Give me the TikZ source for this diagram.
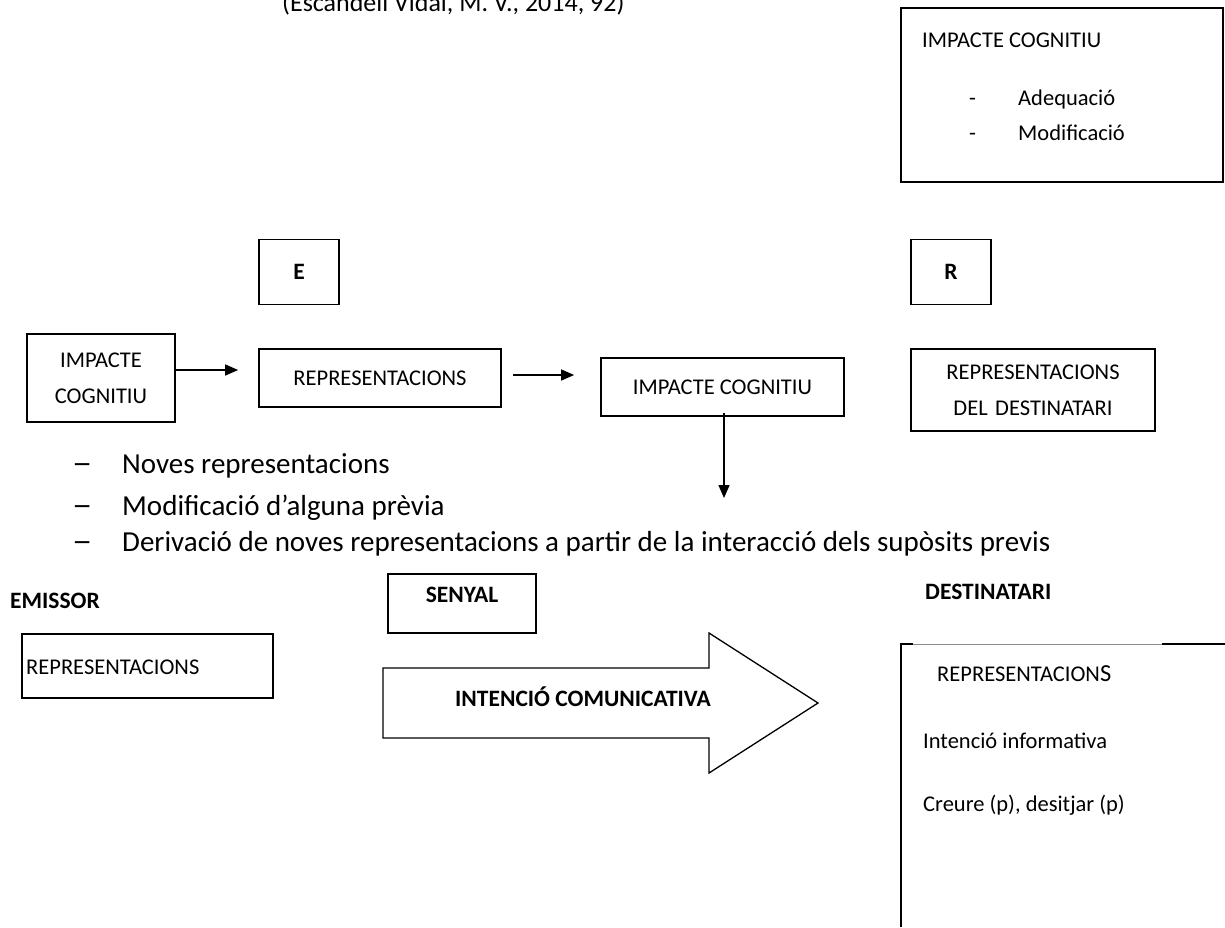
\documentclass[tikz,border=0pt]{standalone}
\usepackage{fontspec}
\setmainfont{Carlito}
\usetikzlibrary{arrows.meta}
\newcommand{\longdash}{\scalebox{1.4}[1.1]{–}}
\begin{document}
\begin{tikzpicture}[x=1pt,y=-1pt,
  box/.style={draw, line width=1.7pt, inner sep=0pt, align=center,
    font=\fontsize{22.5}{36}\selectfont},
  lettered/.style={box, minimum width=80pt, minimum height=65pt,
    font=\fontsize{23.5}{28}\selectfont\bfseries},
  plain/.style={inner sep=0pt, anchor=base west, font=\fontsize{22.5}{27}\selectfont},
  heading/.style={inner sep=0pt, font=\fontsize{23.5}{28}\selectfont\bfseries},
  item/.style={inner sep=0pt, anchor=base west, font=\fontsize{29}{34}\selectfont},
  flow/.style={line width=1.5pt, -{Triangle[length=13pt,width=11pt]}}]
\useasboundingbox (0,0) rectangle (1225,927);

% source reference, partly above the page
\node[inner sep=0pt, anchor=base west, font=\fontsize{26}{30}\selectfont]
  (src) at (282,11) {(Escandell Vidal, M. V., 2014, 92)};

% cognitive impact box, top right
\draw[line width=1.7pt] (901,8) rectangle (1223,182);
\node[plain] (icT) at (922,47) {IMPACTE COGNITIU};
\node[plain] (icD1) at (969,105) {-};
\node[plain] (icA) at (1018,105) {Adequació};
\node[plain] (icD2) at (969,140) {-};
\node[plain] (icM) at (1018,140) {Modificació};

% E and R
\node[lettered] (E) at (299,272) {E};
\node[lettered] (R) at (951,272) {R};

% middle chain
\node[box, minimum width=148pt, minimum height=88pt] (imp1) at (101,378) {IMPACTE\\COGNITIU};
\node[box, minimum width=242pt, minimum height=58pt] (rep1) at (380,378) {REPRESENTACIONS};
\node[box, minimum width=243pt, minimum height=58pt] (imp2) at (722.5,387) {IMPACTE COGNITIU};
\node[box, minimum width=244pt, minimum height=82pt, text width=230pt] (repD) at (1033,390)
  {REPRESENTACIONS\\DEL DESTINATARI};
\coordinate (down) at (724,498);

\draw[flow, shorten >=20pt] ([yshift=8pt]imp1.east) -- ([yshift=8pt]imp1.east -| rep1.west);
\draw[flow, shorten <=11pt, shorten >=26pt] ([yshift=3pt]rep1.east) -- ([yshift=3pt]rep1.east -| imp2.west);
\draw[flow] ([yshift=4pt]imp2.south -| down) -- (down);

% list of effects
\node[item] (d1) at (72,473) {\longdash};
\node[item] (l1) at (122,473) {Noves representacions};
\node[item] (d2) at (72,515) {\longdash};
\node[item] (l2) at (122,515) {Modificació d’alguna prèvia};
\node[item] (d3) at (72,551) {\longdash};
\node[item] (l3) at (122,551) {Derivació de noves representacions a partir de la interacció dels supòsits previs};

% communication
\node[heading, anchor=west] (em) at (10,601) {EMISSOR};
\node[heading, anchor=west] (de) at (925,592) {DESTINATARI};
\node[box, minimum width=148pt, minimum height=59pt] (sen) at (462,603.5) {};
\node[heading] (senT) at (462,595) {SENYAL};
\node[box, minimum width=251pt, minimum height=64pt] (rep0) at (147.5,666) {};
\node[plain] (rep0T) at (26,674) {REPRESENTACIONS};

\draw[line width=1.3pt] (383,668) -- (709,668) -- (709,633) -- (818,703)
  -- (709,773) -- (709,738) -- (383,738) -- cycle;
\node[heading] (ic2) at (583,697) {INTENCIÓ COMUNICATIVA};

% recipient box, open at the right and at the bottom
\coordinate (rb) at (901,644);
\draw[line width=1.7pt] (rb |- 0,927) -- (rb) -- (913,644);
\draw[line width=0.8pt, black!45] (913,644) -- (1162,644);
\draw[line width=1.7pt] (1162,644) -- (1225,644);
\node[plain] (rr1) at (937,681) {REPRESENTACION\fontsize{24.5}{28}\selectfont S};
\node[plain] (rr2) at (923,748) {Intenció informativa};
\node[plain] (rr3) at (923,811) {Creure (p), desitjar (p)};
\end{tikzpicture}
\end{document}
